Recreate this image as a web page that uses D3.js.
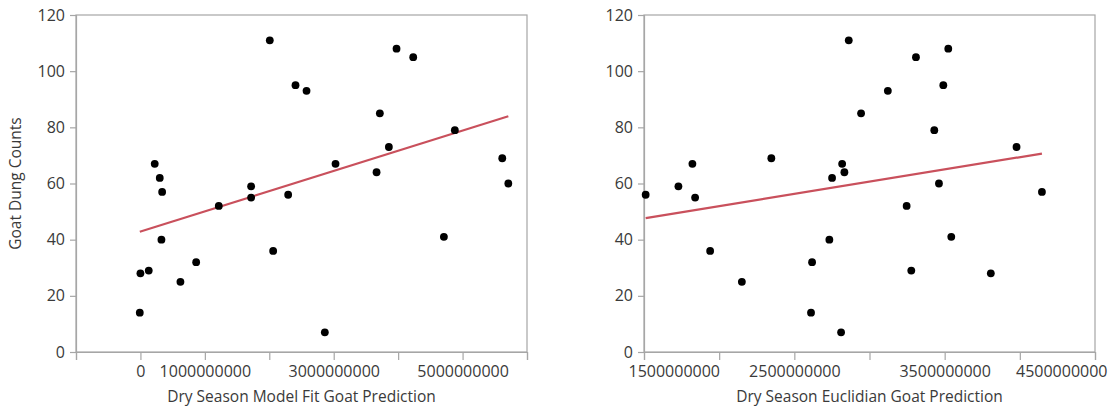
<!DOCTYPE html>
<html>
<head>
<meta charset="utf-8">
<script src="https://cdn.jsdelivr.net/npm/d3@7"></script>
<style>
  html, body { margin: 0; padding: 0; background: #fff; }
  svg { display: block; }
  text { font-family: "Open Sans", "Noto Sans", sans-serif; fill: #3a3a3a; }
</style>
</head>
<body>
<svg id="chart" width="1114" height="411"></svg>
<script>
// Goat dung counts against the dry-season model-fit prediction
const modelFitX = [222000000, 300000000, 337000000, 2008000000, 2407000000, 2578000000,
  1718000000, 2293000000, 1718000000, 1216000000, 326000000, 0, 129000000, 865000000,
  621000000, 2060000000, -10000000, 3975000000, 4234000000, 3716000000, 3028000000,
  3856000000, 3665000000, 4880000000, 5616000000, 5710000000, 4710000000, 2862000000];
const modelFitY = [67, 62, 57, 111, 95, 93, 59, 56, 55, 52, 40, 28, 29, 32, 25, 36, 14,
  108, 105, 85, 67, 73, 64, 79, 69, 60, 41, 7];

// Goat dung counts against the dry-season Euclidian prediction
const euclidX = [2862000000, 1822000000, 2347000000, 1729000000, 2818000000, 2751000000,
  2833000000, 1511000000, 1840000000, 1940000000, 2151000000, 2618000000, 2733000000,
  2611000000, 2811000000, 3309000000, 3524000000, 3122000000, 3491000000, 2944000000,
  3431000000, 3978000000, 3462000000, 4147000000, 3247000000, 3544000000, 3278000000,
  3807000000];
const euclidY = [111, 67, 69, 59, 67, 62, 64, 56, 55, 36, 25, 32, 40, 14, 7, 105, 108,
  93, 95, 85, 79, 73, 60, 57, 52, 41, 29, 28];

// Axis ticks and labels
const yTicks = [0, 20, 40, 60, 80, 100, 120];
const modelFitTicks = [-1000000000, 0, 1000000000, 2000000000, 3000000000, 4000000000, 5000000000, 6000000000];
const modelFitLabels = [0, 1000000000, 3000000000, 5000000000];
const euclidTicks = [1500000000, 2000000000, 2500000000, 3000000000, 3500000000, 4000000000, 4500000000];
const euclidLabels = [1500000000, 2500000000, 3500000000, 4500000000];

const yTitle = "Goat Dung Counts";
const panels = [
  { xs: modelFitX, ys: modelFitY, domain: [-1000000000, 6000000000], ticks: modelFitTicks,
    labels: modelFitLabels, title: "Dry Season Model Fit Goat Prediction", left: 76, right: 527 },
  { xs: euclidX, ys: euclidY, domain: [1500000000, 4500000000], ticks: euclidTicks,
    labels: euclidLabels, title: "Dry Season Euclidian Goat Prediction", left: 644, right: 1095 }
];

const width = 1114;
const plotTop = 15, plotBottom = 352;
const svg = d3.select("#chart");
const frameColor = "#a6a6a6";

// ordinary least squares fit
function fit(xs, ys) {
  const mx = d3.mean(xs), my = d3.mean(ys);
  let sxy = 0, sxx = 0;
  xs.forEach((x, i) => { sxy += (x - mx) * (ys[i] - my); sxx += (x - mx) * (x - mx); });
  const b = sxy / sxx;
  return { a: my - b * mx, b };
}

panels.forEach(p => {
  const x = d3.scaleLinear().domain(p.domain).range([p.left, p.right]);
  const y = d3.scaleLinear().domain([0, 120]).range([plotBottom, plotTop]);
  const g = svg.append("g");

  // frame
  g.append("rect")
    .attr("x", p.left).attr("y", plotTop)
    .attr("width", p.right - p.left).attr("height", plotBottom - plotTop)
    .attr("fill", "none").attr("stroke", frameColor).attr("stroke-width", 1.2);

  const yAxis = g.append("g")
    .attr("transform", `translate(${p.left},0)`)
    .call(d3.axisLeft(y).tickValues(yTicks).tickSize(6).tickPadding(5));
  const xAxis = g.append("g")
    .attr("transform", `translate(0,${plotBottom})`)
    .call(d3.axisBottom(x).tickValues(p.ticks).tickSize(8).tickPadding(6)
      .tickFormat(v => p.labels.includes(v) ? String(v) : ""));

  [yAxis, xAxis].forEach(ax => {
    ax.select(".domain").attr("stroke", frameColor).attr("stroke-width", 1.2);
    ax.selectAll(".tick line").attr("stroke", frameColor).attr("stroke-width", 1.2);
    ax.selectAll(".tick text").attr("font-size", 16).attr("fill", "#3a3a3a")
      .attr("font-family", "'Open Sans', 'Noto Sans', sans-serif");
  });

  // keep end labels inside the panel: nudge them inward when they would overflow
  xAxis.selectAll(".tick text").each(function (v) {
    const w = this.getComputedTextLength();
    const cx = x(v);
    let shift = 0;
    if (cx - w / 2 < p.left - 16) shift = (p.left - 16) - (cx - w / 2);
    if (cx + w / 2 > width - 7) shift = (width - 7) - (cx + w / 2);
    d3.select(this).attr("x", shift);
  });

  // regression line over the data range
  const f = fit(p.xs, p.ys);
  const [x0, x1] = d3.extent(p.xs);
  g.append("line")
    .attr("x1", x(x0)).attr("y1", y(f.a + f.b * x0))
    .attr("x2", x(x1)).attr("y2", y(f.a + f.b * x1))
    .attr("stroke", "#c9505c").attr("stroke-width", 2.2);

  // points
  g.selectAll("circle.pt").data(p.xs.map((v, i) => [v, p.ys[i]]))
    .join("circle").attr("class", "pt")
    .attr("cx", d => x(d[0])).attr("cy", d => y(d[1]))
    .attr("r", 3.9).attr("fill", "#000");

  // x title
  g.append("text")
    .attr("x", (p.left + p.right) / 2).attr("y", 397)
    .attr("dy", "0.35em").attr("text-anchor", "middle")
    .attr("font-size", 15.5).text(p.title);
});

// y title on the left panel only
svg.append("text")
  .attr("transform", `translate(16,${(plotTop + plotBottom) / 2}) rotate(-90)`)
  .attr("dy", "0.35em").attr("text-anchor", "middle")
  .attr("font-size", 15.5).text(yTitle);
</script>
</body>
</html>
